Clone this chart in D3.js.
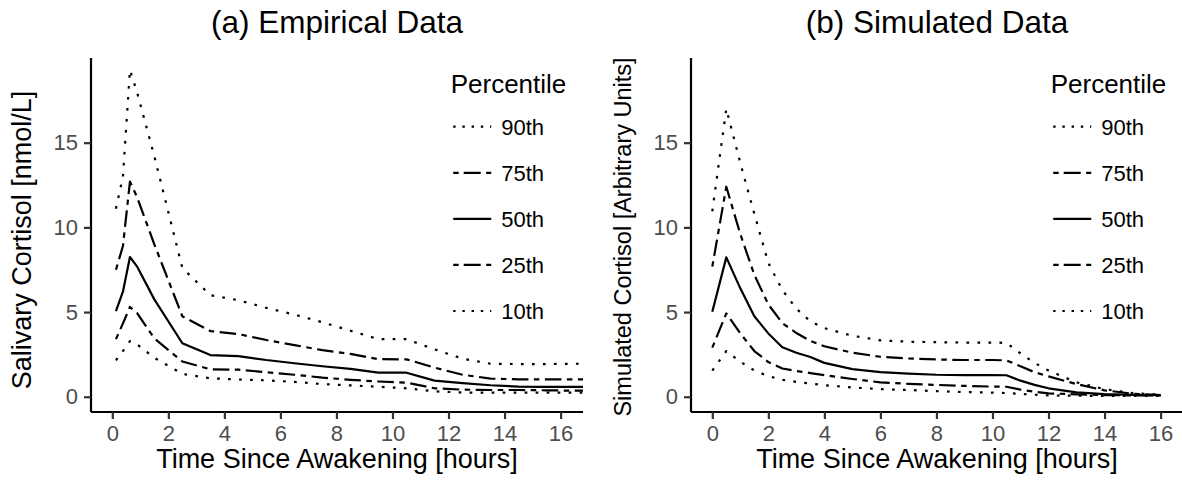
<!DOCTYPE html>
<html><head><meta charset="utf-8">
<script src="https://cdn.jsdelivr.net/npm/d3@7"></script>
<style>
html,body{margin:0;padding:0;background:#fff;}
text{font-family:"Liberation Sans",Arial,Helvetica,sans-serif;}
</style></head>
<body><svg id="chart" width="1182" height="482"></svg>
<script>
// ---- Data ----
const percentiles = ["90th","75th","50th","25th","10th"];
const xTicks = [0,2,4,6,8,10,12,14,16];
const yTicks = [0,5,10,15];

// (a) Empirical
const empTimes = [0.13,0.38,0.63,0.88,1.5,2.5,3.5,4.5,5.5,6.5,7.5,8.5,9.5,10.5,11.5,12.5,13.5,14.5,15.5,16.5,17.0];
const emp90 = [11.1,13.0,19.3,18.0,14.2,7.6,6.0,5.7,5.25,4.85,4.4,3.9,3.4,3.4,2.8,2.25,1.95,1.93,1.93,1.95,1.95];
const emp75 = [7.5,8.9,12.7,11.8,9.0,4.75,3.88,3.7,3.35,3.05,2.75,2.53,2.22,2.21,1.72,1.3,1.07,1.03,1.03,1.03,1.03];
const emp50 = [5.05,6.2,8.25,7.7,5.75,3.16,2.46,2.4,2.17,1.98,1.8,1.65,1.42,1.42,0.95,0.8,0.68,0.6,0.58,0.58,0.58];
const emp25 = [3.4,4.33,5.3,4.95,3.45,2.08,1.62,1.6,1.45,1.3,1.13,1.0,0.9,0.83,0.5,0.42,0.4,0.4,0.38,0.36,0.36];
const emp10 = [2.15,2.7,3.29,3.1,2.3,1.35,1.09,1.02,0.97,0.88,0.75,0.67,0.59,0.5,0.32,0.25,0.24,0.24,0.24,0.24,0.24];

// (b) Simulated
const simTimes = [0,0.5,1,1.5,2,2.5,3,3.5,4,5,6,7,8,9,10,10.5,11,11.5,12,13,14,15,16];
const sim90 = [10.95,17.0,13.8,10.8,7.9,6.3,5.2,4.45,4.05,3.6,3.33,3.25,3.22,3.2,3.2,3.18,2.56,2.0,1.55,0.85,0.45,0.22,0.12];
const sim75 = [7.68,12.4,9.6,7.2,5.45,4.35,3.76,3.3,2.98,2.6,2.36,2.26,2.2,2.17,2.17,2.15,1.8,1.45,1.2,0.75,0.38,0.18,0.1];
const sim50 = [5.02,8.23,6.4,4.75,3.74,2.92,2.6,2.35,2.0,1.63,1.45,1.36,1.3,1.28,1.28,1.27,0.95,0.7,0.5,0.26,0.15,0.11,0.1];
const sim25 = [2.9,4.92,3.74,2.7,2.05,1.67,1.52,1.4,1.28,1.05,0.85,0.76,0.7,0.64,0.6,0.59,0.42,0.3,0.2,0.14,0.1,0.08,0.08];
const sim10 = [1.54,2.7,2.07,1.55,1.22,1.0,0.88,0.78,0.68,0.55,0.45,0.4,0.33,0.28,0.24,0.22,0.17,0.12,0.08,0.06,0.05,0.05,0.05];

const panels = [
  {title:"(a) Empirical Data", ylab:"Salivary Cortisol [nmol/L]", xlab:"Time Since Awakening [hours]",
   times:empTimes, series:[emp90,emp75,emp50,emp25,emp10], ylabSize:27, ylabY:240},
  {title:"(b) Simulated Data", ylab:"Simulated Cortisol [Arbitrary Units]", xlab:"Time Since Awakening [hours]",
   times:simTimes, series:[sim90,sim75,sim50,sim25,sim10], ylabSize:23.5, ylabY:237}
];

// ---- Styles ----
const plotDash = {"90th":"2.7,8.3","75th":"5.5,5.5,16.5,5.5","50th":null,"25th":"5.5,5.5,16.5,5.5","10th":"2.7,8.3"};
const keyDash  = {"90th":"2.4,6.8","75th":"5.5,5,17,5.5","50th":null,"25th":"5.5,5,17,5.5","10th":"2.4,6.8"};

const svg = d3.select("#chart");
const tickColor = "#4D4D4D";

panels.forEach((p, i) => {
  const off = i * 600;
  const left = 91 + off, right = 583 + off, top = 58, bottom = 412;
  const x = d3.scaleLinear().domain([-0.76, 16.8]).range([left, right]);
  const y = d3.scaleLinear().domain([-0.9, 20]).range([bottom, top]);
  const g = svg.append("g");

  const clipId = "clip" + i;
  svg.append("clipPath").attr("id", clipId).append("rect")
    .attr("x", left).attr("y", top).attr("width", right - left).attr("height", bottom - top);

  const line = d3.line().x((d) => x(d[0])).y((d) => y(d[1]));
  const lg = g.append("g").attr("clip-path", `url(#${clipId})`);
  p.series.forEach((vals, k) => {
    const name = percentiles[k];
    const pts = p.times.map((t, j) => [t, vals[j]]);
    lg.append("path").datum(pts).attr("d", line)
      .attr("fill", "none").attr("stroke", "#000").attr("stroke-width", 2.2)
      .attr("stroke-linejoin", "round")
      .attr("stroke-dasharray", plotDash[name]);
  });

  // axes
  const xAxis = g.append("g").attr("transform", `translate(0,${bottom})`)
    .call(d3.axisBottom(x).tickValues(xTicks).tickSize(7).tickPadding(6).tickSizeOuter(0));
  const yAxis = g.append("g").attr("transform", `translate(${left},0)`)
    .call(d3.axisLeft(y).tickValues(yTicks).tickSize(7).tickPadding(6).tickSizeOuter(0));
  [xAxis, yAxis].forEach(a => {
    a.select(".domain").attr("stroke", "#000").attr("stroke-width", 2.2);
    a.selectAll(".tick line").attr("stroke", "#333").attr("stroke-width", 2.2);
    a.selectAll(".tick text").attr("fill", tickColor).style("font-size", "22px")
      .style("font-family", '"Liberation Sans",Arial,sans-serif');
  });
  xAxis.select(".domain").attr("d", `M${left},0H${right}`);
  yAxis.select(".domain").attr("d", `M0,${top}V${bottom}`);

  // titles
  const cx = (left + right) / 2;
  g.append("text").attr("x", cx).attr("y", 33).attr("text-anchor", "middle")
    .style("font-size", "31.5px").attr("fill", "#000").text(p.title);
  g.append("text").attr("x", cx).attr("y", 468).attr("text-anchor", "middle")
    .style("font-size", "27px").attr("fill", "#000").text(p.xlab);
  g.append("text").attr("transform", `translate(${31 + off},${p.ylabY}) rotate(-90)`).attr("text-anchor", "middle")
    .style("font-size", p.ylabSize + "px").attr("fill", "#000").text(p.ylab);

  // legend
  const lx = 450.7 + off;
  g.append("text").attr("x", lx).attr("y", 93).style("font-size", "26px").attr("fill", "#000").text("Percentile");
  const rowY = d3.scalePoint().domain(percentiles).range([126.7, 311]);
  percentiles.forEach((name) => {
    const cy = rowY(name);
    g.append("line").attr("x1", lx + 2.5).attr("x2", lx + 40.5).attr("y1", cy).attr("y2", cy)
      .attr("stroke", "#000").attr("stroke-width", 2.2).attr("stroke-dasharray", keyDash[name]);
    g.append("text").attr("x", lx + 50.5).attr("y", cy + 8).style("font-size", "22px")
      .attr("fill", "#000").text(name);
  });
});
</script></body></html>
